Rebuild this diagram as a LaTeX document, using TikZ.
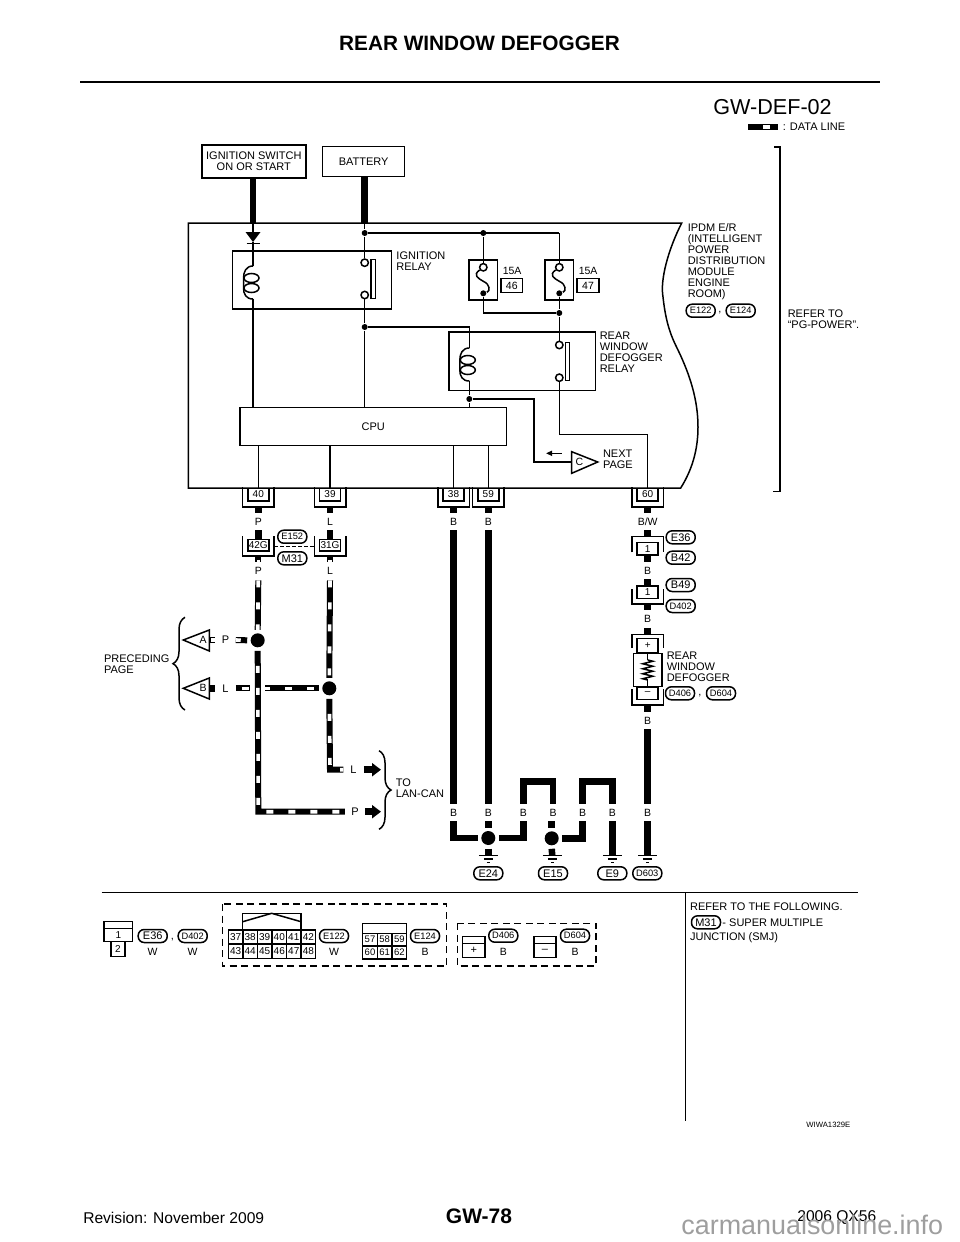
\documentclass[tikz,border=0pt]{standalone}
\usepackage{fontspec}
\setmainfont{Liberation Sans}
\usetikzlibrary{arrows.meta,decorations.pathreplacing,decorations.pathmorphing}
\newcommand{\sizeto}[1]{\fontsize{#1}{#1}\selectfont}
\begin{document}
\begin{tikzpicture}[x=1pt,y=-1pt,line width=1.5pt,
  every node/.style={font=\sizeto{11}},
  txt/.style={inner sep=0,anchor=north west,align=left},
  srcbox/.style={draw,inner sep=0,align=center},
  relay/.style={draw,inner sep=0},
  pin/.style={draw,fill=white,inner sep=0,minimum width=21pt,minimum height=12.5pt,font=\sizeto{10}},
  cup/.style={inner sep=0,minimum width=30pt,append after command={[line width=1.5pt]
    (\tikzlastnode.north west) edge[to path={-- (\tikzlastnode.south west) -- (\tikzlastnode.south east) -- (\tikzlastnode.north east)}] (\tikzlastnode.north east)}},
  hood/.style={inner sep=0,minimum width=30pt,append after command={[line width=1.5pt]
    (\tikzlastnode.south west) edge[to path={-- (\tikzlastnode.north west) -- (\tikzlastnode.north east) -- (\tikzlastnode.south east)}] (\tikzlastnode.south east)}},
  tag/.style={draw,rounded corners=6pt,inner sep=0,minimum width=29pt,minimum height=13pt,font=\sizeto{11}},
  widetag/.style={tag,font=\sizeto{9.3}},
  vlab/.style={inner sep=0,minimum height=16pt,font=\sizeto{10.5}},
  hlab/.style={inner sep=0,minimum width=19pt,font=\sizeto{11}},
  contact/.style={circle,draw,fill=white,inner sep=0,minimum size=7.4pt},
  joint/.style={circle,fill=black,inner sep=0,minimum size=6pt},
  bigjoint/.style={circle,fill=black,inner sep=0,minimum size=14pt,outer sep=3.5pt},
  wire/.style={line width=6.5pt},
  dataline/.style={white,line width=3.6pt,dash pattern=on 7pt off 15pt,preaction={draw=black,solid,line width=6pt}},
  flow/.style={line width=6.5pt,-{Triangle[width=13pt,length=9pt]}},
  cell/.style={draw,inner sep=0,font=\sizeto{10}},
  pics/relaycoil/.style={code={
    \coordinate (-top) at (0,0);
    \coordinate (-bot) at (0,33);
    \draw (0,0) .. controls (-7,0) and (-9.5,6) .. (-9.5,12) -- (-9.5,22) .. controls (-9.5,28) and (-7,33) .. (0,33);
    \draw (-1.5,12) ellipse [x radius=7.5,y radius=4.5];
    \draw (-1.5,22) ellipse [x radius=7.5,y radius=4.5];
  }},
  pics/fuselink/.style={code={
    \node[contact] (-top) at (0,0) {};
    \node[joint] (-bot) at (0,26) {};
    \draw (-top) .. controls (-11,8) and (-5,11) .. (0,14) .. controls (7,17) and (7,24) .. (-bot);
  }},
  pics/earth/.style={code={
    \coordinate (-top) at (0,0);
    \draw (-9.5,0) -- (9.5,0);
    \draw (-4.5,3.5) -- (4.5,3.5);
    \draw (-1.5,7) -- (1.5,7);
  }}]
\useasboundingbox (0,0) rectangle (960,1242);

\node[font=\sizeto{20.8}\bfseries] (title) at (479.5,43) {REAR WINDOW DEFOGGER};
\coordinate (headl) at (80,82);
\coordinate (headr) at (880,82);
\draw[line width=2.6pt] (headl) -- (headr);
\node[font=\sizeto{21.6}] (sheet) at (772.5,107) {GW-DEF-02};
\node[anchor=west,inner xsep=4pt,inner ysep=0] (legend) at (778,127) {: DATA LINE};
\coordinate (swatch) at (748,127);
\draw[dataline,dash phase=7pt] (swatch) -- (legend.west);

\node[srcbox,minimum width=104pt,minimum height=33pt] (ignsw) at (253.8,161.4) {IGNITION SWITCH\\ON OR START};
\node[srcbox,minimum width=82pt,minimum height=30pt] (battery) at (363.7,161.7) {BATTERY};
\coordinate (ignin) at (253,223);
\coordinate (batin) at (364.7,223);
\draw[wire] (ignsw.south -| ignin) -- (ignin);
\draw[wire] (battery.south -| batin) -- (batin);
\draw (188.3,223) -- (681.7,223) .. controls (668,250) and (660,280) .. (663,297)
  .. controls (666,325) and (672,338) .. (678,350)
  .. controls (690,375) and (698,400) .. (698,427)
  .. controls (698,450) and (692,470) .. (680.7,488) -- (188.3,488) -- cycle;

\node[relay,minimum width=159.4pt,minimum height=58pt] (ignrelay) at (312,280) {};
\node[txt] (ignname) at (395.7,251) {IGNITION\\RELAY};
\node[relay,minimum width=146.3pt,minimum height=58.3pt] (rearrelay) at (522.2,361.2) {};
\node[txt] (rearname) at (599,331) {REAR\\WINDOW\\DEFOGGER\\RELAY};
\node[txt] (ipdmname) at (687,222.5) {IPDM E/R\\(INTELLIGENT\\POWER\\DISTRIBUTION\\MODULE\\ENGINE\\ROOM)};
\node[txt] (refername) at (787,309) {REFER TO\\“PG-POWER”.};
\node[draw,minimum width=266.3pt,minimum height=38pt,inner sep=0] (cpu) at (373.2,426.7) {CPU};

\coordinate (diodetop) at (253,232);
\coordinate (diodetip) at (253,242);
\fill (245.5,232) -- (260.5,232) -- (diodetip) -- cycle;
\draw (246.5,243.3) -- (259.5,243.3);
\pic (igncoil) at (253,266) {relaycoil};
\pic (rearcoil) at (469.3,348) {relaycoil};
\draw (ignin) -- (diodetop);
\draw (diodetip) -- (igncoil-top);
\draw (igncoil-bot) -- (cpu.north -| igncoil-bot);

\node[joint] (batjoint) at (364.7,233) {};
\node[joint] (fusejoint) at (483.3,233) {};
\node[contact] (ignup) at (364.7,262.7) {};
\node[contact] (igndown) at (364.7,295) {};
\node[draw,fill=white,inner sep=0,minimum width=4.3pt,minimum height=39pt] (ignbar) at (373.2,278.8) {};
\node[joint] (coiljoint) at (364.7,327) {};
\coordinate (fusecorner) at (559.3,233);
\draw (batin) -- (batjoint) -- (ignup);
\draw (batjoint) -- (fusecorner);
\draw (igndown) -- (coiljoint) -- (cpu.north -| coiljoint);
\draw (coiljoint) -| (rearcoil-top);

\node[draw,minimum width=28.7pt,minimum height=40pt,inner sep=0] (fuseA) at (483.3,280) {};
\node[draw,minimum width=28.7pt,minimum height=40pt,inner sep=0] (fuseB) at (559.3,280) {};
\pic (linkA) at (483.3,267.3) {fuselink};
\pic (linkB) at (559.3,267.3) {fuselink};
\node[txt,font=\sizeto{10.5}] (ampA) at (502,266.5) {15A};
\node[txt,font=\sizeto{10.5}] (ampB) at (578,266.5) {15A};
\node[draw,inner sep=0,minimum width=21.7pt,minimum height=14.4pt,font=\sizeto{10.5}] (slotA) at (511.8,285.5) {46};
\node[draw,inner sep=0,minimum width=21.7pt,minimum height=14.4pt,font=\sizeto{10.5}] (slotB) at (588,285.5) {47};
\node[joint] (outjoint) at (559.3,313) {};
\node[contact] (rearup) at (559.3,345) {};
\node[contact] (reardown) at (559.3,377.7) {};
\node[draw,fill=white,inner sep=0,minimum width=4.3pt,minimum height=38.4pt] (rearbar) at (567.5,361.5) {};
\draw (fusejoint) -- (linkA-top);
\draw (fusecorner) -- (linkB-top);
\draw (linkA-bot) |- (outjoint);
\draw (linkB-bot) -- (outjoint) -- (rearup);

\node[joint] (cpujoint) at (469.3,399) {};
\draw (rearcoil-bot) -- (cpujoint) -- (cpu.north -| cpujoint);
\coordinate (tagC) at (571.7,462);
\coordinate (turnC) at (534,430);
\draw (cpujoint) -| (turnC) |- (tagC);
\draw (tagC |- 0,451.7) -- (597.7,462) -- (tagC |- 0,473.3) -- cycle;
\node[font=\sizeto{10.5},inner sep=0] (nameC) at (579.5,462) {C};
\node[txt] (nextname) at (602.3,449) {NEXT\\PAGE};
\coordinate (flowCa) at (561.7,453.3);
\coordinate (flowCb) at (546,453.3);
\draw[-{Triangle[width=5pt,length=6pt]}] (flowCa) -- (flowCb);

\foreach \num/\px/\col in {40/258.3/P,39/330/L,38/453.5/B,59/488.3/B,60/647.7/{B/W}}{
  \node[cup,minimum height=18pt] (cup\num) at (\px,497) {};
  \node[pin] (pin\num) at (\px,494.5) {\num};
  \draw (cpu.south -| pin\num) -- (pin\num.north);
  \node[vlab] (lab\num) at (\px,521.7) {\col};
  \draw[wire] (cup\num.south) -- (lab\num.north);
}
\coordinate (wire60top) at (559.3,434.3);
\draw (reardown) -- (wire60top) -| (pin60.north);

\foreach \num/\px/\col/\src in {42G/258.3/P/40,31G/330/L/39}{
  \node[cup,minimum height=18pt] (cup\num) at (\px,546) {};
  \node[pin,minimum height=11.5pt] (pin\num) at (\px,545) {\num};
  \draw[wire] (lab\src.south) -- (pin\num.north);
  \node[vlab] (lab\num) at (\px,570.7) {\col};
  \draw[dataline,dash phase=18pt] (cup\num.south) -- (lab\num.north);
}
\draw[dash pattern=on 3.5pt off 2.5pt] (cup42G.east |- 0,546.7) -- (cup31G.west |- 0,546.7);

\node[bigjoint] (bigA) at (257.7,640.3) {};
\node[bigjoint] (bigB) at (329.3,688.3) {};
\node[hlab] (labelP) at (355,811.7) {P};
\node[hlab] (labelL) at (353.5,769.7) {L};
\coordinate (cornerP) at (258.3,811.7);
\coordinate (cornerL) at (330,769.7);
\coordinate (flowP) at (381,811.7);
\coordinate (flowL) at (381,769.7);
\draw[dataline] (lab42G.south) ++(0,1) -- (bigA.north);
\draw[dataline] (lab31G.south) ++(0,1) -- (bigB.north);
\draw[dataline,dash phase=7pt] (bigA.south) -- (cornerP) -- (labelP.west);
\draw[dataline,dash phase=7pt] (bigB.south) -- (cornerL) -- (labelL.west);
\draw[flow] (labelP.east) -- (flowP);
\draw[flow] (labelL.east) -- (flowL);

\coordinate (triA) at (209.3,640);
\coordinate (triB) at (209.3,688.3);
\draw (triA |- 0,630) -- (183.3,640) -- (triA |- 0,651) -- cycle;
\draw (triB |- 0,678) -- (183.3,688.3) -- (triB |- 0,699) -- cycle;
\node[font=\sizeto{10.5},inner sep=0] (nameA) at (203,640) {A};
\node[font=\sizeto{10.5},inner sep=0] (nameB) at (203,688.3) {B};
\node[hlab] (wireA) at (225.5,640) {P};
\node[hlab] (wireB) at (225.5,688.3) {L};
\draw[dataline,dash phase=20pt] (triA) -- (wireA.west);
\draw[wire] (triB) -- (wireB.west);
\draw[dataline,dash phase=2pt] (wireA.east) -- (bigA.west);
\coordinate (gapa) at (250,688.3);
\coordinate (gapb) at (265,688.3);
\draw[dataline,dash phase=16pt] (wireB.east) -- (gapa);
\draw[dataline,dash phase=2pt] (gapb) -- (bigB.west);

\coordinate (braceAa) at (185,710);
\coordinate (braceAb) at (185,617.3);
\coordinate (braceBa) at (379,750.7);
\coordinate (braceBb) at (379,829.3);
\draw[decorate,decoration={brace,amplitude=12pt}] (braceAa) -- (braceAb);
\draw[decorate,decoration={brace,amplitude=12pt}] (braceBa) -- (braceBb);
\node[txt] (prevname) at (103.3,654.5) {PRECEDING\\PAGE};
\node[txt] (lanname) at (395,778.5) {TO\\LAN-CAN};

\foreach \num/\px in {B1/453.5,B2/488.3,B3/523.3,B4/553,B5/582.7,B6/612.3,B7/647.7}
  \node[vlab] (lab\num) at (\px,812.7) {B};
\node[hood,minimum height=14.4pt] (capA) at (647.7,544.5) {};
\node[pin,minimum height=12.7pt] (pinA) at (647.7,548.7) {1};
\node[vlab] (labA) at (647.7,570.7) {B};
\node[pin,minimum height=12.3pt] (pinB) at (647.7,592.2) {1};
\node[cup,minimum height=13.3pt] (cupB) at (647.7,596.7) {};
\node[vlab] (labB) at (647.7,619) {B};
\node[hood,minimum height=12pt] (capplus) at (647.7,641) {};
\node[pin,minimum height=14.4pt] (pinplus) at (647.7,645.5) {+};
\node[draw,inner sep=0,minimum width=28.4pt,minimum height=33.4pt] (heater) at (647.7,670) {};
\node[pin,minimum height=12pt] (pinminus) at (647.7,693.3) {--};
\node[cup,minimum height=14.3pt] (cupminus) at (647.7,697.2) {};
\node[vlab] (labC) at (647.7,720.7) {B};
\coordinate (gridup) at (647.7,660);
\coordinate (griddown) at (647.7,680);
\draw (heater.north) -- (gridup);
\draw[decorate,decoration={zigzag,segment length=5pt,amplitude=5pt}] (gridup) -- (griddown);
\draw (griddown) -- (heater.south);
\node[txt] (heatname) at (666,651) {REAR\\WINDOW\\DEFOGGER};
\draw[wire] (lab60.south) -- (capA.north);
\draw[wire] (pinA.south) -- (labA.north);
\draw[wire] (labA.south) -- (pinB.north);
\draw[wire] (cupB.south) -- (labB.north);
\draw[wire] (labB.south) -- (capplus.north);
\draw[wire] (cupminus.south) -- (labC.north);
\draw[wire] (labC.south) -- (labB7.north);
\draw[wire] (lab38.south) -- (labB1.north);
\draw[wire] (lab59.south) -- (labB2.north);

\foreach \num/\px in {E24/488.3,E15/552.3,E9/612.3,D603/647.7}
  \pic (gnd\num) at (\px,855.7) {earth};
\node[bigjoint] (bigC) at (488.3,838) {};
\node[bigjoint] (bigD) at (551.7,838.3) {};
\coordinate (jumpA) at (538,781.7);
\coordinate (jumpB) at (597.5,781.7);
\draw[wire] (labB1.south) |- (bigC.west);
\draw[wire] (labB2.south) -- (bigC.north);
\draw[wire] (bigC.south) -- (gndE24-top);
\draw[wire] (bigC.east) -| (labB3.south);
\draw[wire] (labB3.north) |- (jumpA) -| (labB4.north);
\draw[wire] (labB4.south -| bigD) -- (bigD.north);
\draw[wire] (bigD.south) -- (gndE15-top);
\draw[wire] (bigD.east) -| (labB5.south);
\draw[wire] (labB5.north) |- (jumpB) -| (labB6.north);
\draw[wire] (labB6.south) -- (gndE9-top);
\draw[wire] (labB7.south) -- (gndD603-top);

\foreach \num/\px/\py [count=\i] in {M31/292.3/558.3,E36/680.7/537.3,B42/680.7/557.7,B49/680.7/585,
  E24/488.3/873.3,E15/553/873.3,E9/612.3/873.3,E36/152.7/936,M31/706/922.3}
  \node[tag] (tag\i) at (\px,\py) {\num};
\foreach \num/\px/\py [count=\i] in {E122/700.7/310.7,E124/740.7/310.7,E152/292.3/536.7,
  D402/680.7/606,D406/680/693.3,D604/721/693.3,D603/647.3/873.3,
  D402/192.7/936,E122/334/936,E124/425/936,D406/503.3/935.7,D604/575/935.7}
  \node[widetag] (widetag\i) at (\px,\py) {\num};
\foreach \px/\py [count=\i] in {720/313,700/696,172.5/939.5}
  \node[inner sep=0] (comma\i) at (\px,\py) {,};

\coordinate (refertop) at (774,147);
\coordinate (referbot) at (773,491.7);
\draw (refertop) -- (780,147) -- (780,491.7) -- (referbot);

\coordinate (footl) at (101.5,892.5);
\coordinate (footr) at (858,892.5);
\coordinate (notetop) at (685.5,892.5);
\coordinate (notebot) at (685.5,1121);
\draw[line width=1.7pt] (footl) -- (footr);
\draw[line width=1.7pt] (notetop) -- (notebot);
\node[txt,anchor=west] (notea) at (689.3,906.7) {REFER TO THE FOLLOWING.};
\node[txt,anchor=west] (noteb) at (721.7,922.3) {- SUPER MULTIPLE};
\node[txt,anchor=west] (notec) at (689.3,937.7) {JUNCTION (SMJ)};

\node[draw,inner sep=0,minimum width=28.7pt,minimum height=6.6pt] (headE) at (118.3,925) {};
\node[draw,inner sep=0,minimum width=28.7pt,minimum height=13.4pt,font=\sizeto{10}] (oneE) at (118.3,935) {1};
\node[draw,inner sep=0,minimum width=14pt,minimum height=15pt,font=\sizeto{10}] (twoE) at (118,949.2) {2};
\foreach \px/\col [count=\i] in {152.7/W,192.7/W,334/W,425/B,503.3/B,575/B}
  \node[inner sep=0,font=\sizeto{10.5}] (cable\i) at (\px,951.7) {\col};

\draw[dash pattern=on 7pt off 4.5pt] (222.7,904) rectangle (446.7,966);
\draw[dash pattern=on 7pt off 4.5pt] (457.3,923.3) rectangle (596,966);
\draw (242.7,929) |- (301,913.3) -- (301,929);
\draw (242.7,921.7) -- (271.7,913.3) -- (301,921.7);
\foreach \num [count=\i from 0] in {37,...,42}
  \node[cell,minimum width=14.55pt,minimum height=14.1pt] (slot\num) at (235.6+14.55*\i,937) {\num};
\foreach \num [count=\i from 0] in {43,...,48}
  \node[cell,minimum width=14.55pt,minimum height=14.1pt] (slot\num) at (235.6+14.55*\i,951.2) {\num};
\draw (362.7,933.3) |- (406.7,923.3) -- (406.7,933.3);
\foreach \num [count=\i from 0] in {57,58,59}
  \node[cell,minimum width=14.67pt,minimum height=12.8pt,font=\sizeto{9.5}] (slot\num) at (370+14.67*\i,939.7) {\num};
\foreach \num [count=\i from 0] in {60,61,62}
  \node[cell,minimum width=14.67pt,minimum height=12.8pt,font=\sizeto{9.5}] (slot\num) at (370+14.67*\i,952.5) {\num};
\node[draw,inner sep=0,minimum width=22.3pt,minimum height=6.6pt] (headF) at (473.8,940) {};
\node[draw,inner sep=0,minimum width=22.3pt,minimum height=14.4pt] (plusF) at (473.8,950.5) {+};
\node[draw,inner sep=0,minimum width=22pt,minimum height=6.6pt] (headG) at (545,940) {};
\node[draw,inner sep=0,minimum width=22pt,minimum height=14.4pt] (minusG) at (545,950.5) {--};

\node[inner sep=0,anchor=east,font=\sizeto{7.7}] (drawing) at (851,1125) {WIWA1329E};
\node[inner sep=0,anchor=west,font=\sizeto{15.6}] (revision) at (82.5,1218) {Revision: November 2009};
\node[font=\sizeto{21}\bfseries] (pageno) at (479,1216.7) {GW-78};
\node[inner sep=0,anchor=east,font=\sizeto{15.6}] (model) at (877,1218) {2006 QX56};
\node[inner sep=0,anchor=base west,text=black!38,font=\sizeto{26.9}] (site) at (680.7,1234) {carmanualsonline.info};
\end{tikzpicture}
\end{document}
